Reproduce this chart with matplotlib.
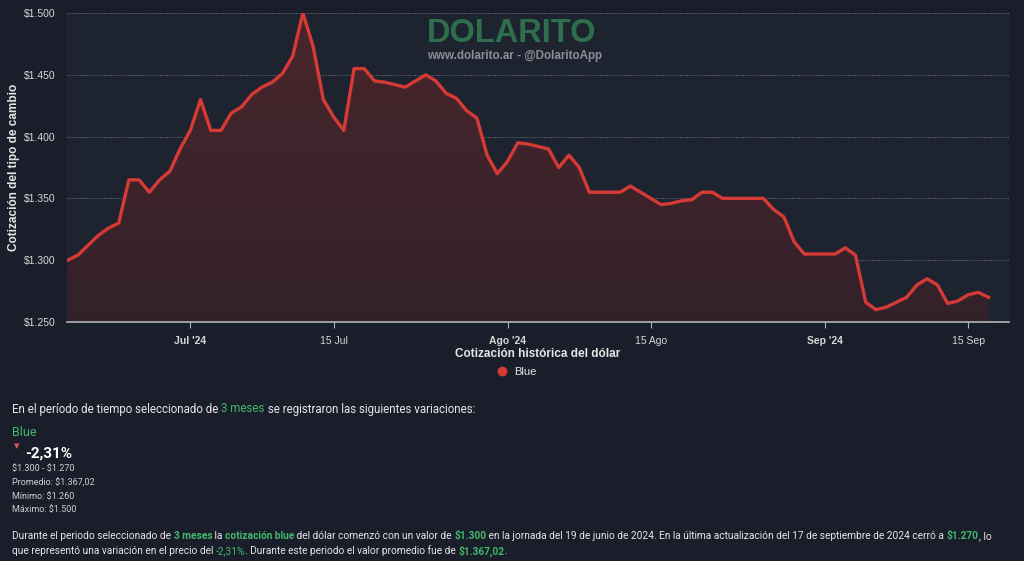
import matplotlib
matplotlib.use("Agg")
import matplotlib.pyplot as plt
import matplotlib.dates as mdates
from matplotlib.lines import Line2D
import numpy as np
import pandas as pd

# cotizacion blue, una por dia desde el 19/06/2024
start_date = "2024-06-19"
blue = [1300, 1304, 1312, 1320, 1326, 1330, 1365, 1365, 1355, 1365,
        1372, 1390, 1405, 1430, 1405, 1405, 1419, 1424, 1434, 1440,
        1444, 1451, 1465, 1500, 1473, 1430, 1416, 1405, 1455, 1455,
        1445, 1444, 1442, 1440, 1445, 1450, 1445, 1435, 1431, 1421,
        1415, 1385, 1370, 1380, 1395, 1394, 1392, 1390, 1375, 1385,
        1375, 1355, 1355, 1355, 1355, 1360, 1355, 1350, 1345, 1346,
        1348, 1349, 1355, 1355, 1350, 1350, 1350, 1350, 1350, 1341,
        1335, 1315, 1305, 1305, 1305, 1305, 1310, 1304, 1266, 1260,
        1262, 1266, 1270, 1280, 1285, 1280, 1265, 1267, 1272, 1274,
        1270]
dates = pd.date_range(start_date, periods=len(blue), freq="D")

y_ticks = [1250, 1300, 1350, 1400, 1450, 1500]
y_labels = ["$1.250", "$1.300", "$1.350", "$1.400", "$1.450", "$1.500"]
x_ticks = ["2024-07-01", "2024-07-15", "2024-08-01", "2024-08-15", "2024-09-01", "2024-09-15"]
x_labels = ["Jul '24", "15 Jul", "Ago '24", "15 Ago", "Sep '24", "15 Sep"]

BG = "#1a1e2a"
RED = "#d63a35"
GREEN = "#41b86b"
TXT = "#e6e6e6"
CHART_FONT = ["Liberation Sans", "DejaVu Sans"]
BODY_FONT = ["Roboto", "DejaVu Sans"]

fig = plt.figure(figsize=(10.24, 5.61), dpi=100, facecolor=BG)
ax = fig.add_axes([67 / 1024, 1 - 322 / 561, 942 / 1024, 309 / 561])
ax.set_facecolor("#1e2330")

x = mdates.date2num(dates)
vals = np.array(blue, dtype=float)

# area con degradado
poly = ax.fill_between(x, vals, 1250, color="none")
grad = np.linspace(0, 1, 256).reshape(-1, 1)
cmap = matplotlib.colors.LinearSegmentedColormap.from_list("g", ["#33212a", "#4a262c"])
img = ax.imshow(grad, cmap=cmap, aspect="auto", origin="lower",
                extent=[x[0], x[-1], 1250, 1500], zorder=1)
img.set_clip_path(poly.get_paths()[0], transform=ax.transData)
ax.plot(x, vals, color=RED, lw=2.4, zorder=3, solid_joinstyle="round")

ax.set_xlim(mdates.date2num(pd.Timestamp("2024-06-19")) - 0.05,
            mdates.date2num(pd.Timestamp("2024-09-19")))
ax.set_ylim(1250, 1500)
ax.set_yticks(y_ticks)
ax.set_yticklabels(y_labels)
ax.set_xticks(mdates.date2num(pd.to_datetime(x_ticks)))
ax.set_xticklabels(x_labels)
for i, lbl in enumerate(ax.get_xticklabels()):
    lbl.set_fontweight("bold" if "'" in x_labels[i] else "normal")
for lbl in ax.get_xticklabels() + ax.get_yticklabels():
    lbl.set_family(CHART_FONT)
    lbl.set_fontsize(7.5)
    lbl.set_color("#d8d8d8")

ax.grid(axis="y", color="#8a8f9a", linestyle=(0, (1, 1.5)), lw=0.7, alpha=0.8)
ax.set_axisbelow(True)
for s in ["top", "right", "left"]:
    ax.spines[s].set_visible(False)
ax.spines["bottom"].set_color("#b0b4bc")
ax.spines["bottom"].set_linewidth(1.2)
ax.tick_params(axis="y", length=0, pad=8)
ax.tick_params(axis="x", length=4, color="#b0b4bc", pad=6)

ax.set_xlabel("Cotización histórica del dólar", family=CHART_FONT, fontsize=8.5,
              fontweight="bold", color=TXT)
ax.set_ylabel("Cotización del tipo de cambio", family=CHART_FONT, fontsize=8.5,
              fontweight="bold", color=TXT)
ax.xaxis.set_label_coords(0.5, -0.085)
ax.yaxis.set_label_coords(-0.05, 0.5)

# marca de agua
fig.text(512 / 1024, 1 - 33 / 561, "DOLARITO", family=CHART_FONT, fontsize=23.5,
         fontweight="bold", color="#2f6e4c", ha="center", va="center")
fig.text(515 / 1024, 1 - 56 / 561, "www.dolarito.ar - @DolaritoApp", family=CHART_FONT,
         fontsize=8.4, fontweight="bold", color="#8a8e96", ha="center", va="center")

handle = Line2D([], [], marker="o", color=RED, linestyle="none", markersize=6)
fig.legend([handle], ["Blue"], loc="center", bbox_to_anchor=(514 / 1024, 1 - 372 / 561),
           frameon=False, labelcolor=TXT, handletextpad=0.1,
           prop={"family": CHART_FONT, "size": 8})

renderer = fig.canvas.get_renderer()


def text_w(s, size, w):
    # ancho en px, con "x" al final para que cuenten los espacios
    t = fig.text(0, 0, s + "x", fontsize=size, fontweight=w, family=BODY_FONT)
    t2 = fig.text(0, 0, "x", fontsize=size, fontweight=w, family=BODY_FONT)
    width = t.get_window_extent(renderer=renderer).width - t2.get_window_extent(renderer=renderer).width
    t.remove()
    t2.remove()
    return width


def runs(x0, ypx, parts, size):
    xp = x0
    for s, c, w in parts:
        fig.text(xp / 1024, 1 - ypx / 561, s, color=c, fontsize=size, fontweight=w,
                 family=BODY_FONT, ha="left", va="center")
        xp += text_w(s, size, w)


runs(12, 409, [("En el período de tiempo seleccionado de ", TXT, "normal"),
               ("3 meses", GREEN, "normal"),
               (" se registraron las siguientes variaciones:", TXT, "normal")], 8.3)

fig.text(12 / 1024, 1 - 432 / 561, "Blue", color=GREEN, fontsize=9, family=BODY_FONT,
         va="center")
fig.text(17 / 1024, 1 - 446 / 561, "▼", color="#e05a5a", fontsize=5, family=["DejaVu Sans"],
         ha="center", va="center")
fig.text(25 / 1024, 1 - 454 / 561, "-2,31%", color="#ffffff", fontsize=11,
         fontweight="bold", family=BODY_FONT, va="center")
stats = [r"\$1.300 - \$1.270", r"Promedio: \$1.367,02", r"Mínimo: \$1.260", r"Máximo: \$1.500"]
for i, s in enumerate(stats):
    fig.text(12 / 1024, 1 - (469 + 13.7 * i) / 561, s, color="#d0d0d0", fontsize=6.5,
             family=BODY_FONT, va="center")

runs(12, 536, [("Durante el periodo seleccionado de ", TXT, "normal"),
               ("3 meses", GREEN, "bold"),
               (" la ", TXT, "normal"),
               ("cotización blue", GREEN, "bold"),
               (" del dólar comenzó con un valor de ", TXT, "normal"),
               ("$1.300", GREEN, "bold"),
               (" en la jornada del 19 de junio de 2024. En la última actualización del 17 de septiembre de 2024 cerró a ", TXT, "normal"),
               ("$1.270", GREEN, "bold"),
               (", lo", TXT, "normal")], 7.3)
runs(12, 551, [("que representó una variación en el precio del ", TXT, "normal"),
               ("-2,31%", GREEN, "normal"),
               (". Durante este periodo el valor promedio fue de ", TXT, "normal"),
               ("$1.367,02", GREEN, "bold"),
               (".", TXT, "normal")], 7.3)

fig.savefig("out.png", dpi=100, facecolor=BG)
